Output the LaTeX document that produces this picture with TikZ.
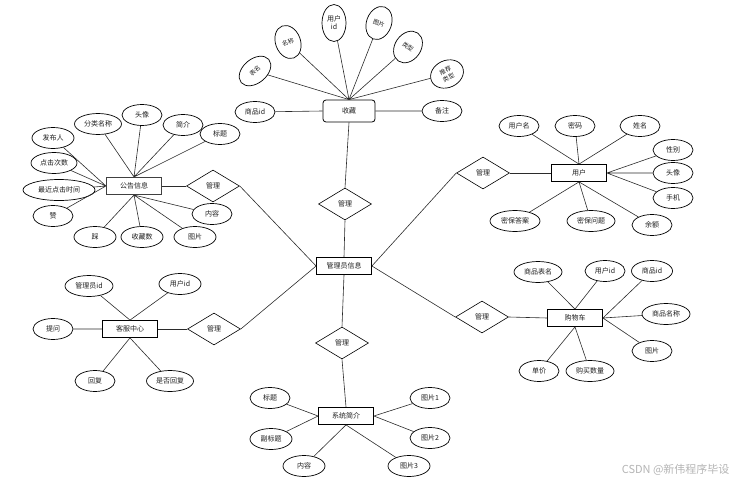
\documentclass[tikz,border=0pt]{standalone}
\usepackage{fontspec}
\setmainfont{Noto Sans CJK SC}
\usetikzlibrary{shapes.geometric, positioning}

\begin{document}
\begin{tikzpicture}[
    x=1pt, y=-1pt,
    font=\fontsize{7}{8}\selectfont
]

\definecolor{myline}{HTML}{2B2B2B}
\definecolor{mytext}{HTML}{1E1E1E}
\definecolor{mymark}{HTML}{B4B4B4}

\tikzset{
    entity/.style={
        rectangle,
        draw=black,
        line width=0.8pt,
        fill=white,
        minimum width=55pt,
        minimum height=17pt,
        inner sep=1pt,
        text=mytext
    },
    attr/.style={
        ellipse,
        draw=black,
        line width=0.7pt,
        fill=white,
        minimum width=40pt,
        minimum height=21pt,
        inner sep=0pt,
        text=mytext,
        align=center
    },
    tiltattr/.style={
        attr,
        font=\fontsize{6}{7.5}\selectfont
    },
    rel/.style={
        diamond,
        draw=black,
        line width=0.6pt,
        fill=white,
        aspect=1.65,
        minimum width=53pt,
        minimum height=32pt,
        inner sep=0pt,
        text=mytext
    },
    conn/.style={
        draw=myline,
        line width=0.6pt
    }
}

\useasboundingbox (0,0) rectangle (743,484);

% Entities
\node[entity] (admin) at (344,266) {管理员信息};
\node[entity, rounded corners=3pt, minimum width=52pt, minimum height=22pt] (fav) at (349,111) {收藏};
\node[entity, draw=black!75, line width=1.1pt] (notice) at (134,186) {公告信息};
\node[entity] (user) at (579,173) {用户};
\node[entity] (kefu) at (130,329) {客服中心};
\node[entity] (cart) at (575,318) {购物车};
\node[entity] (intro) at (346,416) {系统简介};

% Relations
\node[rel] (mfav) at (345,204) {管理};
\node[rel] (mnotice) at (213,186) {管理};
\node[rel] (muser) at (483,173) {管理};
\node[rel] (mkefu) at (214,329) {管理};
\node[rel] (mcart) at (482,317) {管理};
\node[rel] (mintro) at (342,343) {管理};

% Attributes of 收藏
\node[attr] (fav-ref) at (255,112) {商品id};
\node[attr] (fav-note) at (442,111) {备注};
\node[tiltattr, minimum width=36pt, minimum height=24pt, rotate=40] (fav-table) at (255,71) {表名};
\node[tiltattr, minimum width=25pt, minimum height=34pt, rotate=20] (fav-name) at (288,42) {名称};
\node[attr, minimum width=24pt, minimum height=37pt] (fav-uid) at (334,23) {用户\\id};
\node[tiltattr, minimum width=25pt, minimum height=34pt, rotate=-20] (fav-pic) at (379,23) {图片};
\node[tiltattr, minimum width=26pt, minimum height=34pt, rotate=-35] (fav-type) at (408,47) {类型};
\node[tiltattr, minimum width=34pt, minimum height=27pt, rotate=25] (fav-rec) at (447,74) {推荐\\类型};

% Attributes of 公告信息
\node[attr, minimum width=42pt] (n-pub) at (53,138) {发布人};
\node[attr, minimum width=47pt] (n-cat) at (98,124) {分类名称};
\node[attr] (n-head) at (142,115) {头像};
\node[attr] (n-brief) at (183,125) {简介};
\node[attr] (n-title) at (220,134) {标题};
\node[attr, minimum width=46pt] (n-click) at (54,163) {点击次数};
\node[attr, minimum width=72pt] (n-last) at (59,190) {最近点击时间};
\node[attr] (n-up) at (53,216) {赞};
\node[attr, minimum width=42pt] (n-down) at (95,237) {踩};
\node[attr, minimum width=42pt] (n-fav) at (142,237) {收藏数};
\node[attr, minimum width=42pt] (n-pic) at (195,237) {图片};
\node[attr] (n-content) at (212,214) {内容};

% Attributes of 用户
\node[attr] (u-name) at (519,126) {用户名};
\node[attr] (u-pwd) at (575,126) {密码};
\node[attr] (u-real) at (640,126) {姓名};
\node[attr] (u-sex) at (673,150) {性别};
\node[attr] (u-head) at (673,173) {头像};
\node[attr] (u-phone) at (673,198) {手机};
\node[attr] (u-money) at (652,225) {余额};
\node[attr, minimum width=48pt] (u-ques) at (591,221) {密保问题};
\node[attr, minimum width=50pt] (u-ans) at (515,221) {密保答案};

% Attributes of 客服中心
\node[attr, minimum width=48pt] (k-aid) at (89,286) {管理员id};
\node[attr, minimum width=42pt] (k-uid) at (180,284) {用户id};
\node[attr] (k-ask) at (53,329) {提问};
\node[attr] (k-reply) at (95,381) {回复};
\node[attr, minimum width=47pt] (k-isreply) at (170,381) {是否回复};

% Attributes of 购物车
\node[attr, minimum width=48pt] (c-table) at (538,272) {商品表名};
\node[attr] (c-uid) at (605,271) {用户id};
\node[attr, minimum width=41pt] (c-gid) at (652,271) {商品id};
\node[attr, minimum width=48pt] (c-gname) at (666,314) {商品名称};
\node[attr] (c-pic) at (652,351) {图片};
\node[attr] (c-price) at (539,371) {单价};
\node[attr, minimum width=48pt] (c-num) at (590,371) {购买数量};

% Attributes of 系统简介
\node[attr] (s-title) at (270,398) {标题};
\node[attr, minimum width=42pt] (s-sub) at (271,439) {副标题};
\node[attr, minimum width=42pt] (s-content) at (304,466) {内容};
\node[attr] (s-p1) at (430,398) {图片1};
\node[attr] (s-p2) at (430,438) {图片2};
\node[attr, minimum width=42pt] (s-p3) at (409,466) {图片3};

% Watermark
\node[text=mymark, font=\fontsize{11}{13}\selectfont, anchor=east] (csdn) at (733,470) {CSDN @新伟程序毕设};

% Edges between entities and relations
\draw[conn] (fav.south) -- (mfav.north);
\draw[conn] (mfav.south) -- (admin.north);
\draw[conn] (notice.east) -- (mnotice.west);
\draw[conn] (mnotice.east) -- (admin.west);
\draw[conn] (user.west) -- (muser.east);
\draw[conn] (muser.west) -- (admin.east);
\draw[conn] (kefu.east) -- (mkefu.west);
\draw[conn] (mkefu.east) -- (admin.west);
\draw[conn] (cart.west) -- (mcart.east);
\draw[conn] (mcart.west) -- (admin.east);
\draw[conn] (admin.south) -- (mintro.north);
\draw[conn] (mintro.south) -- (intro.north);

% Edges of 收藏
\draw[conn] (fav-ref) -- (fav.west) (fav-note) -- (fav.east)
    (fav-table) -- (fav.north) (fav-name) -- (fav.north) (fav-uid) -- (fav.north)
    (fav-pic) -- (fav.north) (fav-type) -- (fav.north) (fav-rec) -- (fav.north);

% Edges of 公告信息
\draw[conn] (n-pub) -- (notice.west) (n-click) -- (notice.west)
    (n-last) -- (notice.west) (n-up) -- (notice.west);
\draw[conn] (n-cat) -- (notice.north) (n-head) -- (notice.north)
    (n-brief) -- (notice.north) (n-title) -- (notice.north);
\draw[conn] (n-down) -- (notice.south) (n-fav) -- (notice.south)
    (n-pic) -- (notice.south) (n-content) -- (notice.south);

% Edges of 用户
\draw[conn] (u-name) -- (user.north) (u-pwd) -- (user.north) (u-real) -- (user.north);
\draw[conn] (u-sex) -- (user.east) (u-head) -- (user.east) (u-phone) -- (user.east);
\draw[conn] (u-ans) -- (user.south) (u-ques) -- (user.south) (u-money) -- (user.south);

% Edges of 客服中心
\draw[conn] (k-aid) -- (kefu.north) (k-uid) -- (kefu.north) (k-ask) -- (kefu.west)
    (k-reply) -- (kefu.south) (k-isreply) -- (kefu.south);

% Edges of 购物车
\draw[conn] (c-table) -- (cart.north) (c-uid) -- (cart.north);
\draw[conn] (c-gid) -- (cart.east) (c-gname) -- (cart.east) (c-pic) -- (cart.east);
\draw[conn] (c-price) -- (cart.south) (c-num) -- (cart.south);

% Edges of 系统简介
\draw[conn] (s-title) -- (intro.west) (s-sub) -- (intro.west)
    (s-p1) -- (intro.east) (s-p2) -- (intro.east)
    (s-content) -- (intro.south) (s-p3) -- (intro.south);

\end{tikzpicture}
\end{document}
